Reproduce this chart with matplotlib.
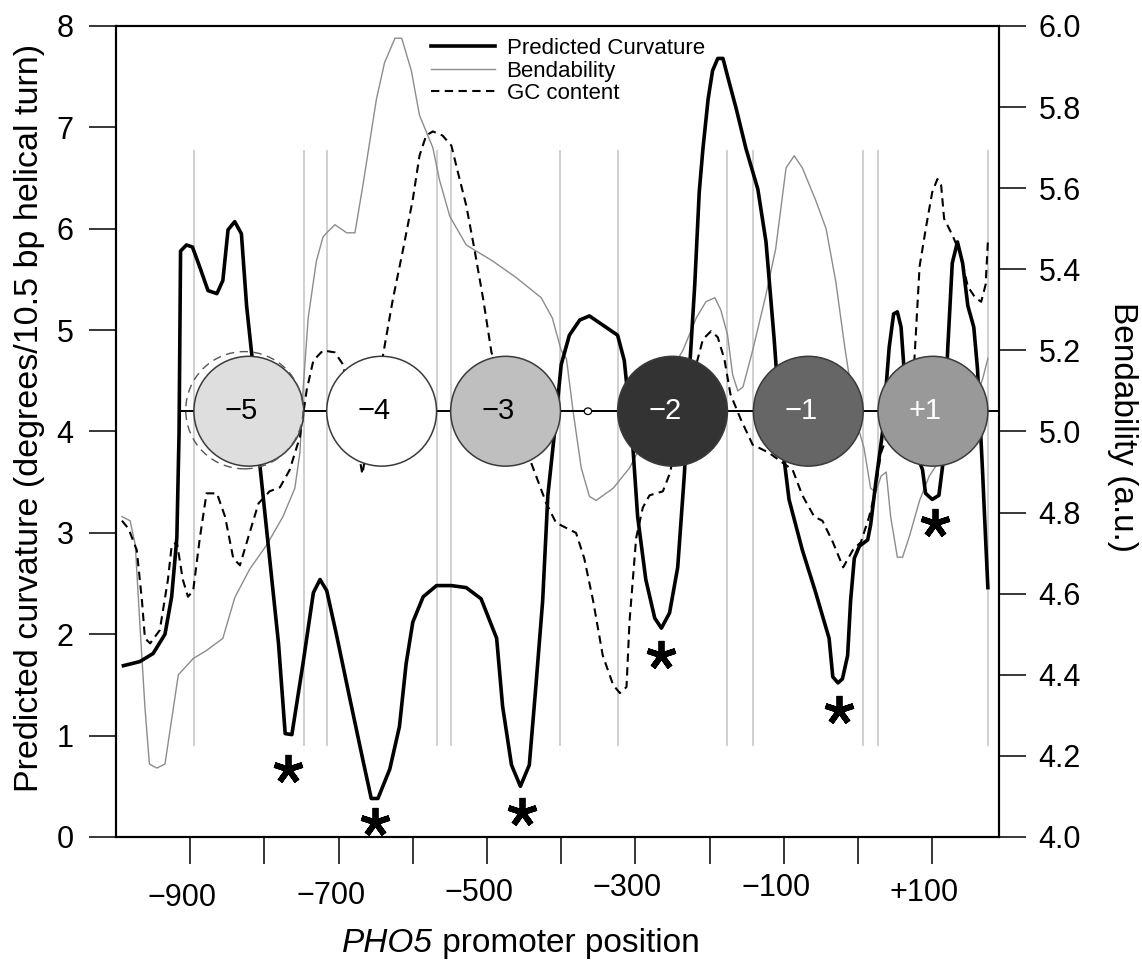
import matplotlib
matplotlib.use("Agg")
import matplotlib.pyplot as plt
import matplotlib.transforms as mtransforms
from matplotlib.patches import Ellipse

plt.rcParams["font.family"] = ["Liberation Sans", "DejaVu Sans"]

# ---- predicted curvature (degrees / 10.5 bp helical turn) ----
curv_pos = [-990, -968, -950, -934, -925, -918, -915, -913, -905, -897, -887, -876,
            -864, -856, -849, -840, -831, -824, -815, -806, -793, -781, -772, -763,
            -748, -734, -725, -716, -703, -685, -667, -656, -647, -631, -618, -609,
            -600, -586, -568, -548, -528, -508, -487, -479, -467, -455, -443, -434,
            -425, -418, -409, -400, -389, -375, -362, -344, -324, -315, -304, -297,
            -286, -274, -265, -254, -243, -234, -227, -220, -214, -209, -202, -196,
            -189, -182, -176, -164, -151, -135, -124, -113, -104, -93, -75, -57,
            -39, -34, -27, -21, -14, -10, -5, 2, 13, 17, 24, 33, 42, 48, 53, 58,
            62, 69, 87, 91, 100, 109, 114, 121, 127, 134, 141, 148, 156, 161, 168,
            170, 175]
curv_val = [1.69, 1.73, 1.81, 2.00, 2.37, 2.95, 3.99, 5.78, 5.84, 5.82, 5.62, 5.39,
            5.36, 5.49, 5.99, 6.07, 5.95, 5.24, 4.62, 3.66, 2.75, 1.91, 1.02, 1.01,
            1.71, 2.41, 2.54, 2.43, 2.00, 1.37, 0.75, 0.38, 0.38, 0.67, 1.09, 1.71,
            2.12, 2.37, 2.48, 2.48, 2.46, 2.35, 1.96, 1.29, 0.71, 0.50, 0.71, 1.50,
            2.33, 3.37, 3.99, 4.66, 4.95, 5.10, 5.14, 5.05, 4.95, 4.70, 3.91, 3.16,
            2.54, 2.16, 2.06, 2.21, 2.66, 3.58, 4.62, 5.45, 6.36, 6.79, 7.28, 7.56,
            7.68, 7.68, 7.51, 7.18, 6.79, 6.39, 5.87, 4.91, 3.99, 3.33, 2.83, 2.41,
            1.96, 1.58, 1.52, 1.56, 1.79, 2.33, 2.75, 2.87, 2.93, 3.08, 3.50, 3.99,
            4.83, 5.16, 5.18, 5.03, 4.62, 3.99, 3.62, 3.39, 3.33, 3.37, 3.66, 4.83,
            5.66, 5.87, 5.66, 5.24, 5.03, 4.62, 3.58, 3.25, 2.46]

# ---- bendability (a.u., right axis) ----
bend_pos = [-992, -981, -974, -968, -961, -955, -945, -934, -925, -916, -896, -878,
            -856, -840, -820, -797, -775, -759, -752, -748, -741, -730, -721, -716,
            -705, -689, -678, -667, -649, -638, -624, -615, -602, -591, -573, -564,
            -550, -528, -492, -461, -427, -412, -400, -393, -384, -373, -362, -353,
            -330, -308, -294, -268, -236, -218, -205, -193, -185, -176, -169, -162,
            -155, -142, -125, -111, -97, -86, -75, -57, -43, -30, -18, -3, 8, 17,
            24, 31, 38, 44, 53, 60, 69, 83, 96, 114, 150, 168, 175]
bend_val = [4.79, 4.78, 4.72, 4.53, 4.32, 4.18, 4.17, 4.18, 4.29, 4.40, 4.44, 4.46,
            4.49, 4.59, 4.66, 4.72, 4.79, 4.86, 4.95, 5.10, 5.28, 5.42, 5.48, 5.49,
            5.51, 5.49, 5.49, 5.61, 5.82, 5.91, 5.97, 5.97, 5.89, 5.78, 5.70, 5.62,
            5.53, 5.46, 5.42, 5.38, 5.33, 5.28, 5.20, 5.18, 5.05, 4.91, 4.84, 4.83,
            4.86, 4.91, 4.96, 5.10, 5.20, 5.28, 5.32, 5.33, 5.30, 5.24, 5.14, 5.10,
            5.11, 5.20, 5.33, 5.45, 5.65, 5.68, 5.65, 5.57, 5.50, 5.37, 5.21, 5.03,
            4.96, 4.86, 4.85, 4.89, 4.90, 4.79, 4.69, 4.69, 4.74, 4.83, 4.89, 4.94,
            5.04, 5.13, 5.18]

# ---- GC content (drawn against the left scale) ----
gc_pos = [-992, -983, -972, -965, -961, -954, -941, -930, -925, -918, -910, -903,
          -896, -887, -878, -864, -853, -842, -833, -822, -808, -793, -779, -766,
          -752, -743, -734, -721, -705, -694, -668, -640, -627, -613, -600, -591,
          -582, -573, -560, -548, -539, -528, -517, -505, -494, -443, -420, -407,
          -380, -369, -357, -344, -330, -321, -312, -308, -299, -290, -281, -263,
          -254, -218, -209, -198, -189, -180, -172, -158, -142, -120, -88, -75,
          -59, -48, -34, -20, -7, 4, 15, 22, 31, 76, 83, 92, 100, 107, 112, 116,
          127, 138, 148, 158, 166, 172, 175]
gc_val = [3.12, 3.04, 2.83, 2.33, 1.96, 1.91, 2.04, 2.54, 2.87, 2.91, 2.54, 2.37,
          2.43, 2.95, 3.39, 3.39, 3.16, 2.75, 2.68, 2.95, 3.29, 3.41, 3.45, 3.62,
          3.95, 4.41, 4.70, 4.80, 4.78, 4.66, 3.58, 4.76, 5.30, 5.80, 6.29, 6.72,
          6.92, 6.96, 6.92, 6.82, 6.55, 6.23, 5.80, 5.30, 4.78, 3.74, 3.29, 3.10,
          3.00, 2.75, 2.33, 1.79, 1.50, 1.42, 1.48, 2.12, 2.95, 3.25, 3.37, 3.41,
          3.58, 4.66, 4.91, 4.99, 4.93, 4.71, 4.37, 4.12, 3.87, 3.79, 3.62, 3.37,
          3.16, 3.12, 2.91, 2.66, 2.83, 2.91, 3.16, 3.37, 3.79, 4.71, 5.63, 6.03,
          6.36, 6.49, 6.43, 6.10, 5.94, 5.75, 5.43, 5.32, 5.28, 5.45, 5.87]

# ---- nucleosomes ----
nuc_labels = ["\u22125", "\u22124", "\u22123", "\u22122", "\u22121", "+1"]
nuc_start = [-895, -716, -549, -324, -141, 27]
nuc_len = 148
nuc_fill = ["#dedede", "#ffffff", "#bfbfbf", "#333333", "#666666", "#999999"]
nuc_text = ["black", "black", "black", "white", "white", "white"]
nuc_y = 4.2
ghost_center, ghost_len = -827, 158
marker_site = -364

# ---- curvature minima flagged with asterisks ----
star_pos = [-768, -651, -453, -265, -25, 104]
star_val = [0.67, 0.15, 0.25, 1.80, 1.25, 3.10]

x_major = [-900, -700, -500, -300, -100, 100]
x_major_labels = ["\u2212900", "\u2212700", "\u2212500", "\u2212300", "\u2212100", "+100"]
x_label_rise = [0, 2, 5, 10, 10, 5]          # small vertical stagger, pixels
x_minor = [-800, -600, -400, -200, 0]
left_ticks = [0, 1, 2, 3, 4, 5, 6, 7, 8]
right_ticks = [4.0, 4.2, 4.4, 4.6, 4.8, 5.0, 5.2, 5.4, 5.6, 5.8, 6.0]

W, H = 1142, 960
fig = plt.figure(figsize=(W / 100, H / 100), dpi=100)
ax = fig.add_axes([116 / W, 1 - 837 / H, (999 - 116) / W, (837 - 26) / H])
ax.set_xlim(-1000, 190)
ax.set_ylim(0, 8)
ax2 = ax.twinx()
ax2.set_ylim(4.0, 6.0)

# nucleosome boundary guides
bounds = []
for s in nuc_start:
    bounds += [s, s + nuc_len]
ax.vlines(bounds, 0.9, 6.78, colors="#c4c4c4", linewidth=1.1, zorder=1)

# data curves
ax.plot(bend_pos, bend_val, color="#8c8c8c", lw=1.0, zorder=2,
        transform=ax2.transData, label="Bendability")
ax.plot(gc_pos, gc_val, color="black", lw=1.5, ls=(0, (4, 2.6)), zorder=2.5,
        label="GC content")
ax.plot(curv_pos, curv_val, color="black", lw=2.6, zorder=3,
        solid_joinstyle="round", label="Predicted Curvature")

# DNA line with nucleosomes drawn as circles
ax.plot([-912, 190], [nuc_y, nuc_y], color="black", lw=1.4, zorder=3.5)
fig_w_px = fig.get_figwidth() * fig.dpi
fig_h_px = fig.get_figheight() * fig.dpi
pos = ax.get_position()
px_per_bp = pos.width * fig_w_px / (ax.get_xlim()[1] - ax.get_xlim()[0])
px_per_unit = pos.height * fig_h_px / (ax.get_ylim()[1] - ax.get_ylim()[0])
aspect = px_per_bp / px_per_unit

for s, lab, fc, tc in zip(nuc_start, nuc_labels, nuc_fill, nuc_text):
    c = s + nuc_len / 2
    ax.add_patch(Ellipse((c, nuc_y), nuc_len, nuc_len * aspect, facecolor=fc,
                         edgecolor="#3a3a3a", lw=1.1, zorder=4))
    ax.annotate(lab, (c, nuc_y), xytext=(-5.5, 0), textcoords="offset points",
                ha="center", va="center", fontsize=21, color=tc, zorder=6)
ax.add_patch(Ellipse((ghost_center, nuc_y + 0.01), ghost_len, ghost_len * aspect,
                     facecolor="none", edgecolor="#555555", lw=1.0,
                     ls=(0, (6, 4)), zorder=5))
ax.add_patch(Ellipse((marker_site, nuc_y), 10, 0.065, facecolor="white",
                     edgecolor="black", lw=0.9, zorder=4))

# asterisks under curvature minima
ax.plot(star_pos, star_val, ls="none", marker=(5, 2, 0), markersize=21,
        markeredgewidth=4.2, color="black", zorder=6, clip_on=False)

# axes styling
for sp in ax.spines.values():
    sp.set_linewidth(1.5)
for sp in ax2.spines.values():
    sp.set_linewidth(1.5)
ax.set_xticks(x_major)
ax.set_xticklabels(x_major_labels)
ax.set_xticks(x_minor, minor=True)
ax.set_yticks(left_ticks)
ax2.set_yticks(right_ticks)
ax2.set_yticklabels([f"{v:.1f}" for v in right_ticks])
ax.tick_params(axis="x", which="both", direction="out", length=19.5, width=1.1,
               pad=13.8, labelsize=22, top=False)
ax.tick_params(axis="y", direction="out", length=19.5, width=1.1, pad=11,
               labelsize=22, right=False)
ax2.tick_params(axis="y", direction="out", length=19.5, width=1.1, pad=9,
                labelsize=22)

# keep the digits centred on their ticks, with the printed stagger
for lbl, rise in zip(ax.get_xticklabels(), x_label_rise):
    off = mtransforms.ScaledTranslation(-8 / 100, rise / 100, fig.dpi_scale_trans)
    lbl.set_transform(lbl.get_transform() + off)

# x-axis title: italic gene name followed by plain text
gene = ax.text((342 - 116) / 883, (837 - 952) / 811, "PHO5", style="italic",
               fontsize=24, ha="left", va="baseline", transform=ax.transAxes)
ax.annotate(" promoter position", xy=(1, 0), xycoords=gene, fontsize=24,
            ha="left", va="bottom")

ax.set_ylabel("Predicted curvature (degrees/10.5 bp helical turn)", fontsize=24.5,
              ha="center", va="center")
ax.yaxis.set_label_coords(-0.0985, 0.517)
ax2.set_ylabel("Bendability (a.u.)", fontsize=24, rotation=270,
               ha="center", va="center")
ax2.yaxis.set_label_coords(1.140, 0.505)

# legend
handles, labels = ax.get_legend_handles_labels()
order = [labels.index("Predicted Curvature"), labels.index("Bendability"),
         labels.index("GC content")]
leg = ax.legend([handles[i] for i in order], [labels[i] for i in order],
                loc="upper left", bbox_to_anchor=(431 / W, 1 - 38 / H),
                bbox_transform=fig.transFigure, frameon=False, fontsize=16,
                handlelength=2.9, handletextpad=0.5, labelspacing=0.07,
                borderpad=0, borderaxespad=0)
leg.set_zorder(7)

fig.savefig("out.png", dpi=100)
